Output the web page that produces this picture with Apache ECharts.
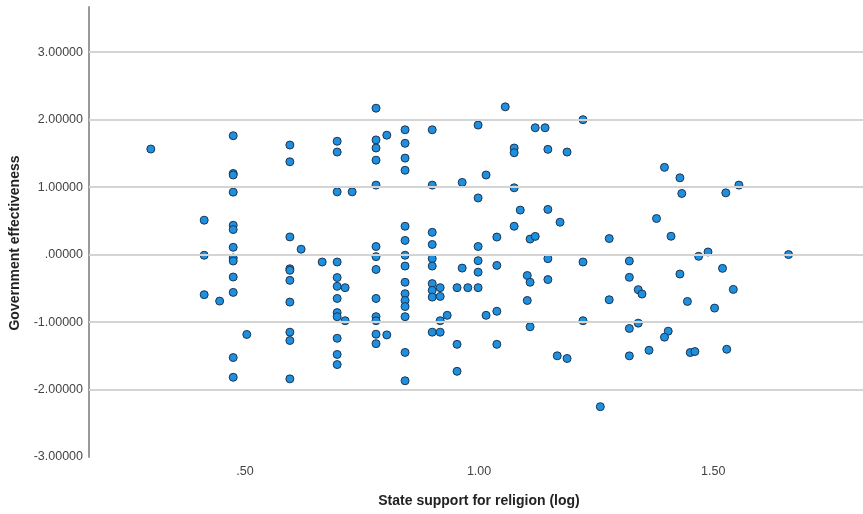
<!DOCTYPE html>
<html><head><meta charset="utf-8">
<script src="https://cdn.jsdelivr.net/npm/echarts@6/dist/echarts.min.js"></script>
<style>html,body{margin:0;padding:0;background:#fff}#c{width:863px;height:514px}</style>
</head><body><div id="c"></div>
<script>
const xTickValues = [0.5, 1.0, 1.5];
const yTickValues = [-3, -2, -1, 0, 1, 2, 3];
const xLabels = ['.50', '1.00', '1.50'];
const xTitle = 'State support for religion (log)';
const yTitle = 'Government effectiveness';
// State support for religion (log)
const xValues = [
  0.299, 0.475, 0.475, 0.475, 0.475, 0.413, 0.475, 0.475, 0.475, 0.413, 0.475, 0.475, 0.475, 0.413, 0.446, 0.475, 0.504, 0.475, 0.475,
  0.596, 0.596, 0.596, 0.596, 0.596, 0.596, 0.596, 0.596, 0.596, 0.596, 0.620, 0.665,
  0.697, 0.697, 0.697, 0.697, 0.697, 0.697, 0.697, 0.697, 0.697, 0.697, 0.697, 0.697, 0.714, 0.714, 0.729,
  0.780, 0.780, 0.780, 0.780, 0.780, 0.780, 0.780, 0.780, 0.780, 0.780, 0.780, 0.780, 0.780, 0.803, 0.803,
  0.842, 0.842, 0.842, 0.842, 0.842, 0.842, 0.842, 0.842, 0.842, 0.842, 0.842, 0.842, 0.842, 0.842, 0.842,
  0.900, 0.900, 0.900, 0.900, 0.900, 0.900, 0.900, 0.900, 0.900, 0.900, 0.917, 0.917, 0.917, 0.917, 0.932,
  0.953, 0.953, 0.953, 0.964, 0.964, 0.976, 0.998, 0.998, 0.998, 0.998, 0.998, 0.998, 1.015, 1.015,
  1.038, 1.038, 1.038, 1.038, 1.056, 1.075, 1.075, 1.075, 1.075, 1.088, 1.103, 1.103, 1.109, 1.109, 1.109,
  1.120, 1.120, 1.141, 1.147, 1.147, 1.147, 1.147, 1.167, 1.173, 1.188, 1.188, 1.222, 1.222, 1.222,
  1.396, 1.429, 1.433, 1.527, 1.555, 1.379, 1.410, 1.278, 1.469, 1.489, 1.661, 1.321, 1.520, 1.321, 1.429,
  1.340, 1.348, 1.543, 1.278, 1.445, 1.503, 1.321, 1.340, 1.404, 1.396, 1.363, 1.321, 1.451, 1.461, 1.529, 1.259
];
// Government effectiveness
const yValues = [
  1.565, 1.762, 1.203, 1.180, 0.926, 0.510, 0.435, 0.371, 0.108, -0.010, -0.050, -0.095, -0.332, -0.594, -0.689, -0.560, -1.184, -1.526, -1.818,
  1.624, 1.376, 0.262, -0.210, -0.233, -0.382, -0.704, -1.150, -1.273, -1.842, 0.080, -0.110,
  1.68, 1.52, 0.93, -0.11, -0.34, -0.47, -0.65, -0.86, -0.92, -1.24, -1.48, -1.63, -0.49, -0.98, 0.93,
  2.17, 1.70, 1.58, 1.40, 1.03, 0.12, -0.03, -0.22, -0.65, -0.92, -0.98, -1.18, -1.32, 1.77, -1.19,
  1.85, 1.65, 1.43, 1.25, 0.42, 0.21, -0.01, -0.17, -0.41, -0.58, -0.68, -0.77, -0.92, -1.45, -1.87,
  1.85, 1.03, 0.33, 0.15, -0.06, -0.17, -0.43, -0.53, -0.63, -1.15, -0.49, -0.62, -0.98, -1.15, -0.90,
  -0.49, -1.33, -1.73, 1.07, -0.20, -0.49, 1.92, 0.84, 0.12, -0.09, -0.26, -0.49, 1.18, -0.90,
  0.26, -0.16, -0.84, -1.33, 2.19, 1.58, 1.51, 0.99, 0.42, 0.66, -0.31, -0.68, 0.23, -0.41, -1.07,
  1.88, 0.27, 1.88, 1.56, 0.67, -0.37, -0.06, -1.50, 0.48, 1.52, -1.54, 2.00, -0.11, -0.98,
  1.293, 1.138, 0.906, 0.915, 1.030, 0.535, 0.272, 0.238, -0.025, 0.039, 0.000, -0.095, -0.204, -0.337, -0.288,
  -0.520, -0.585, -0.516, -0.669, -0.694, -0.793, -1.095, -1.016, -1.135, -1.224, -1.418, -1.501, -1.452, -1.437, -1.403, -2.254
];

const chart = echarts.init(document.getElementById('c'), null, {renderer: 'canvas'});
const pts = xValues.map((x, i) => [x, yValues[i]]);
const fmtY = v => {
  const s = Math.abs(v).toFixed(5).replace(/^0/, '');
  return (v < 0 ? '-' : '') + s;
};
const font = 'Liberation Sans, Arial, sans-serif';
chart.setOption({
  animation: false,
  grid: {left: 89, right: 0, top: 7, bottom: 57, containLabel: false},
  xAxis: {
    type: 'value', min: 0.167, max: 1.82,
    name: xTitle, nameLocation: 'middle', nameGap: 37,
    nameTextStyle: {fontFamily: font, fontSize: 14, fontWeight: 'bold', color: '#222', padding: [0, 0, 0, 6]},
    axisLine: {show: true, lineStyle: {color: '#9a9a9a', width: 2}},
    axisTick: {show: false},
    splitLine: {show: false},
    axisLabel: {customValues: xTickValues, margin: 8, color: '#444', fontSize: 12.5, fontFamily: font,
      formatter: v => { const i = xTickValues.findIndex(t => Math.abs(t - v) < 1e-6); return i >= 0 ? xLabels[i] : ''; }}
  },
  yAxis: {
    type: 'value', min: -3, max: 3.67,
    name: yTitle, nameLocation: 'middle', nameGap: 67, nameRotate: 90,
    nameTextStyle: {fontFamily: font, fontSize: 14, fontWeight: 'bold', color: '#222', padding: [0, 22, 0, 0]},
    axisLine: {show: true, onZero: false, lineStyle: {color: '#9a9a9a', width: 2}},
    axisTick: {show: false},
    splitLine: {show: false},
    axisLabel: {customValues: yTickValues, margin: 6, color: '#444', fontSize: 12.5, fontFamily: font, formatter: fmtY}
  },
  series: [{
    type: 'scatter',
    data: pts,
    symbol: 'circle',
    symbolSize: 8,
    itemStyle: {color: '#1f8fe0', borderColor: '#1b3550', borderWidth: 1, opacity: 1},
    markLine: {
      silent: true, symbol: 'none', label: {show: false}, animation: false,
      lineStyle: {color: '#d4d4d4', width: 2, type: 'solid'},
      data: yTickValues.filter(v => v > -3).map(v => ({yAxis: v}))
    },
    z: 3
  }]
});
</script></body></html>
